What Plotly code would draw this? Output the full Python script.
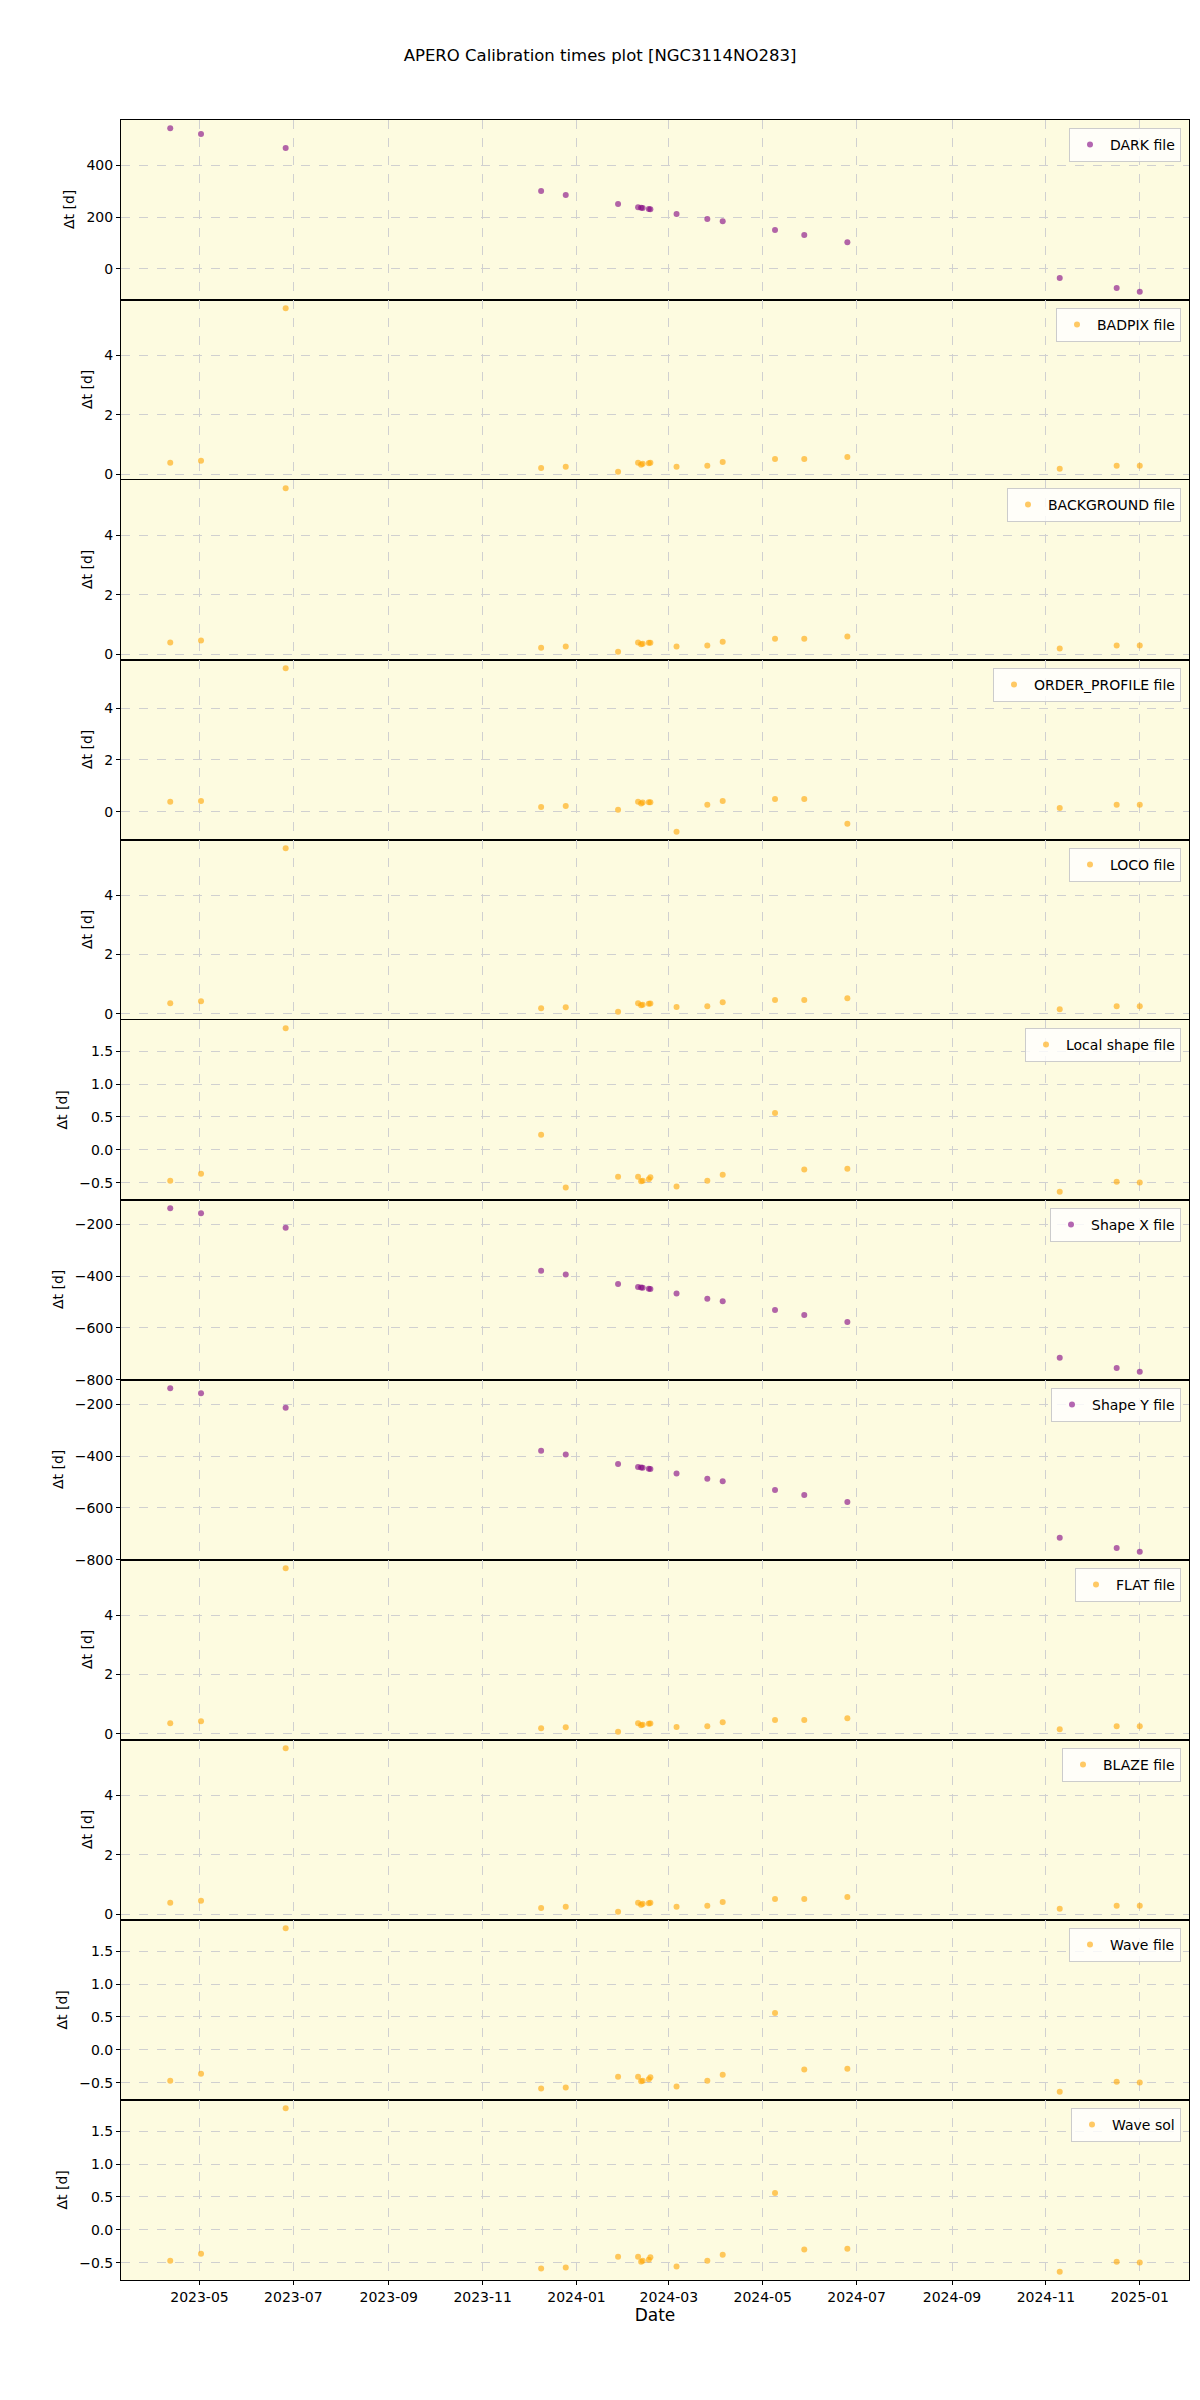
import plotly.graph_objects as go
from plotly.subplots import make_subplots

# observation dates (shared by all calibration panels)
dates = ["2023-04-12", "2023-05-02", "2023-06-26", "2023-12-09", "2023-12-25",
         "2024-01-28", "2024-02-10", "2024-02-12", "2024-02-13", "2024-02-17",
         "2024-02-18", "2024-03-06", "2024-03-26", "2024-04-05", "2024-05-09",
         "2024-05-28", "2024-06-25", "2024-11-10", "2024-12-17", "2025-01-01"]

dark = [542, 520, 466, 300, 285, 250, 238, 236, 235, 231, 230, 212, 192, 184,
        150, 131, 103, -35, -73, -88]
badpix = [0.39, 0.46, 5.57, 0.22, 0.26, 0.09, 0.39, 0.33, 0.36, 0.38, 0.39, 0.26,
          0.29, 0.42, 0.52, 0.52, 0.59, 0.19, 0.29, 0.29]
background = [0.40, 0.47, 5.57, 0.23, 0.27, 0.09, 0.40, 0.34, 0.36, 0.39, 0.39, 0.27,
              0.30, 0.43, 0.53, 0.53, 0.60, 0.20, 0.30, 0.30]
order_profile = [0.385, 0.42, 5.54, 0.19, 0.23, 0.08, 0.385, 0.32, 0.36, 0.37, 0.37, -0.77,
                 0.27, 0.42, 0.50, 0.50, -0.46, 0.15, 0.27, 0.27]
loco = [0.36, 0.43, 5.58, 0.19, 0.225, 0.07, 0.36, 0.29, 0.31, 0.34, 0.35, 0.23,
        0.26, 0.39, 0.47, 0.47, 0.53, 0.16, 0.26, 0.26]
local_shape = [-0.47, -0.364, 1.85, 0.227, -0.576, -0.41, -0.41, -0.48, -0.47, -0.45, -0.42,
               -0.56, -0.47, -0.38, 0.56, -0.30, -0.29, -0.64, -0.485, -0.50]
shape_x = [-138, -158, -213, -379, -394, -430, -442, -444, -445, -449, -450, -467,
           -487, -497, -531, -550, -577, -715, -754, -769]
shape_y = [-138, -158, -213, -379, -394, -430, -442, -444, -445, -449, -450, -467,
           -487, -497, -531, -550, -577, -715, -754, -769]
flat = [0.36, 0.43, 5.58, 0.19, 0.225, 0.07, 0.36, 0.29, 0.31, 0.34, 0.35, 0.23,
        0.26, 0.39, 0.47, 0.47, 0.53, 0.16, 0.26, 0.26]
blaze = [0.39, 0.46, 5.57, 0.22, 0.26, 0.09, 0.39, 0.33, 0.36, 0.38, 0.39, 0.26,
         0.29, 0.42, 0.52, 0.52, 0.59, 0.19, 0.29, 0.29]
wave_file = [-0.47, -0.364, 1.85, -0.59, -0.576, -0.41, -0.41, -0.48, -0.47, -0.45, -0.42,
             -0.56, -0.47, -0.38, 0.56, -0.30, -0.29, -0.64, -0.485, -0.50]
wave_sol = [-0.47, -0.364, 1.85, -0.59, -0.576, -0.41, -0.41, -0.485, -0.47, -0.455, -0.42,
            -0.56, -0.47, -0.38, 0.56, -0.30, -0.29, -0.64, -0.485, -0.50]

labels = ["DARK file", "BADPIX file", "BACKGROUND file", "ORDER_PROFILE file", "LOCO file",
          "Local shape file", "Shape X file", "Shape Y file", "FLAT file", "BLAZE file",
          "Wave file", "Wave sol"]
series = [dark, badpix, background, order_profile, loco, local_shape, shape_x, shape_y,
          flat, blaze, wave_file, wave_sol]
colors = ["purple", "orange", "orange", "orange", "orange", "orange", "purple", "purple",
          "orange", "orange", "orange", "orange"]
dticks = [200, 2, 2, 2, 2, 0.5, 200, 200, 2, 2, 0.5, 0.5]
# page x of the rotated y label centre, per panel
ylab_x = [69, 87, 87, 87, 87, 61.5, 58, 58, 87, 87, 61.5, 61.5]

n = len(labels)
off = 8  # body margin of the html page
W, H = 1200 - off, 2400 - off
ml, mr, mt, mb = 121 - off, 11, 120 - off, 120
pw = W - ml - mr
ph_tot = H - mt - mb
ph = ph_tot / n

fig = make_subplots(rows=n, cols=1, shared_xaxes=True, vertical_spacing=0)

for i in range(n):
    leg = "legend" if i == 0 else "legend%d" % (i + 1)
    fig.add_trace(go.Scatter(x=dates, y=series[i], mode="markers", name=labels[i],
                             marker=dict(color=colors[i], size=6, opacity=0.6,
                                         line=dict(width=0)),
                             legend=leg), row=i + 1, col=1)
    lo, hi = min(series[i]), max(series[i])
    pad = 0.05 * (hi - lo)
    fig.update_yaxes(range=[lo - pad, hi + pad], dtick=dticks[i],
                     tickformat=".1f" if dticks[i] == 0.5 else None,
                     row=i + 1, col=1)
    fig.update_layout({leg: dict(x=1 - 8 / pw, xanchor="right",
                                 y=1 - (ph * i + 8) / ph_tot, yanchor="top",
                                 bgcolor="rgba(255,255,255,0.8)", bordercolor="#cccccc",
                                 borderwidth=1, font=dict(size=14, color="black"))})
    fig.add_annotation(text="Δt [d]", textangle=-90, showarrow=False,
                       xref="paper", yref="paper",
                       x=(ylab_x[i] - off - ml) / pw, xanchor="center",
                       y=1 - (ph * i + ph / 2) / ph_tot, yanchor="middle",
                       font=dict(size=14, color="black"))

fig.update_xaxes(type="date", range=["2023-03-11", "2025-02-02"], dtick="M2",
                 tick0="2023-01-01", tickformat="%Y-%m", showgrid=True,
                 gridcolor="#d0d0d0", griddash="dash", gridwidth=1,
                 showline=True, mirror=True, linecolor="black", linewidth=1,
                 zeroline=False, automargin=False)
fig.update_xaxes(ticks="outside", ticklen=4, tickcolor="black",
                 title=dict(text="Date", standoff=4), row=n, col=1)

fig.update_yaxes(showgrid=True, gridcolor="#d0d0d0", griddash="dash", gridwidth=1,
                 showline=True, mirror=True, linecolor="black", linewidth=1,
                 zeroline=False, ticks="outside", ticklen=4, tickcolor="black",
                 automargin=False)

fig.update_layout(
    width=W, height=H,
    margin=dict(l=ml, r=mr, t=mt, b=mb),
    plot_bgcolor="#FDFBE0",
    paper_bgcolor="white",
    font=dict(family="DejaVu Sans", size=14, color="black"),
    title=dict(text="APERO Calibration times plot [NGC3114NO283]",
               x=(600 - off) / W, xanchor="center",
               y=1 - (55 - off) / H, yanchor="middle", font=dict(size=16.5)),
    showlegend=True,
)

fig.write_html("out.html")
